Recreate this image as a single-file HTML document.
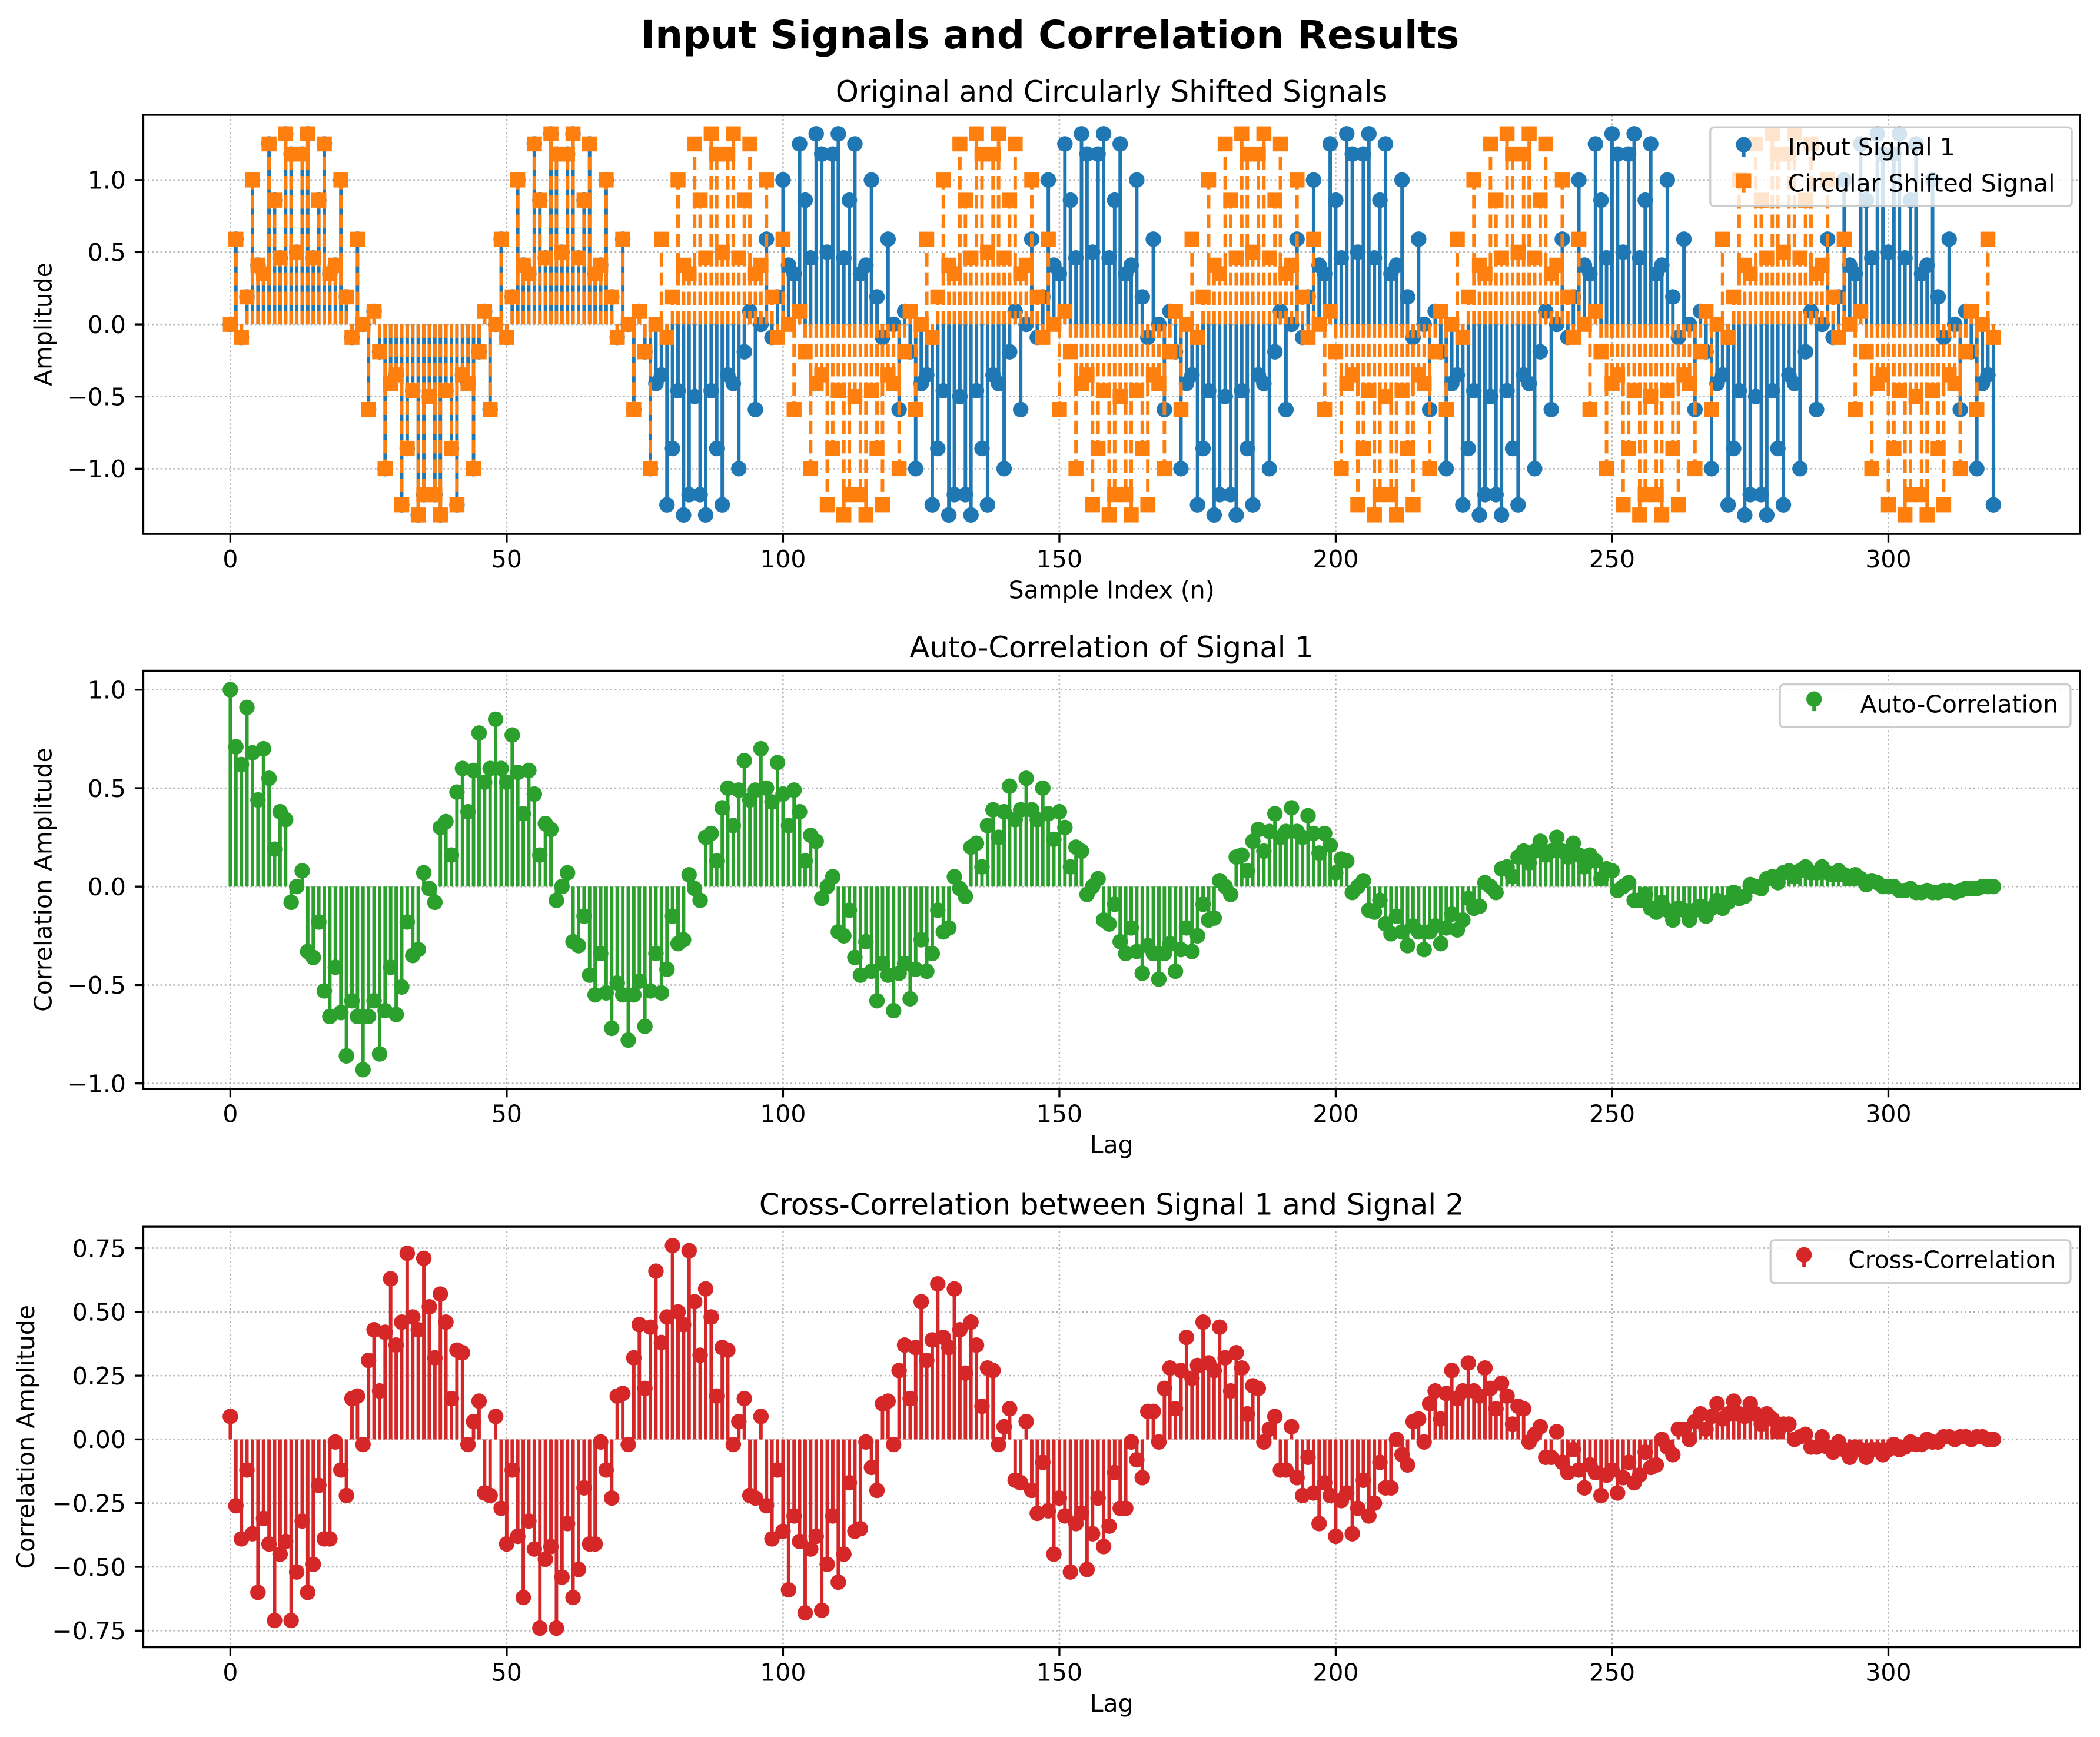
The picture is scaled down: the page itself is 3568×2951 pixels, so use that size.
<!DOCTYPE html>
<html><head><meta charset="utf-8"><style>
html,body{margin:0;padding:0;background:#fff}
svg{display:block}
text{font-family:"DejaVu Sans","Liberation Sans",sans-serif;fill:#000}
</style></head><body>
<svg id="fig" xmlns="http://www.w3.org/2000/svg" width="3568" height="2951" viewBox="0 0 1568 1297" preserveAspectRatio="none">
<rect x="0" y="0" width="1568" height="1297" fill="#fff"/>
<text x="784" y="36" text-anchor="middle" font-size="29" font-weight="bold">Input Signals and Correlation Results</text>
<g id="ax1"></g>
<g id="ax2"></g>
<g id="ax3"></g>
</svg>
<script>
// ---- data ----
const signal1 = [0,.59,-.09,.19,1,.41,.35,1.25,.86,.46,1.32,1.18,.5,1.18,1.32,.46,.86,1.25,.35,.41,1,.19,-.09,.59,
0,-.59,.09,-.19,-1,-.41,-.35,-1.25,-.86,-.46,-1.32,-1.18,-.5,-1.18,-1.32,-.46,-.86,-1.25,-.35,-.41,-1,-.19,.09,-.59,
0,.59,-.09,.19,1,.41,.35,1.25,.86,.46,1.32,1.18,.5,1.18,1.32,.46,.86,1.25,.35,.41,1,.19,-.09,.59,
0,-.59,.09,-.19,-1,-.41,-.35,-1.25,-.86,-.46,-1.32,-1.18,-.5,-1.18,-1.32,-.46,-.86,-1.25,-.35,-.41,-1,-.19,.09,-.59,
0,.59,-.09,.19,1,.41,.35,1.25,.86,.46,1.32,1.18,.5,1.18,1.32,.46,.86,1.25,.35,.41,1,.19,-.09,.59,
0,-.59,.09,-.19,-1,-.41,-.35,-1.25,-.86,-.46,-1.32,-1.18,-.5,-1.18,-1.32,-.46,-.86,-1.25,-.35,-.41,-1,-.19,.09,-.59,
0,.59,-.09,.19,1,.41,.35,1.25,.86,.46,1.32,1.18,.5,1.18,1.32,.46,.86,1.25,.35,.41,1,.19,-.09,.59,
0,-.59,.09,-.19,-1,-.41,-.35,-1.25,-.86,-.46,-1.32,-1.18,-.5,-1.18,-1.32,-.46,-.86,-1.25,-.35,-.41,-1,-.19,.09,-.59,
0,.59,-.09,.19,1,.41,.35,1.25,.86,.46,1.32,1.18,.5,1.18,1.32,.46,.86,1.25,.35,.41,1,.19,-.09,.59,
0,-.59,.09,-.19,-1,-.41,-.35,-1.25,-.86,-.46,-1.32,-1.18,-.5,-1.18,-1.32,-.46,-.86,-1.25,-.35,-.41,-1,-.19,.09,-.59,
0,.59,-.09,.19,1,.41,.35,1.25,.86,.46,1.32,1.18,.5,1.18,1.32,.46,.86,1.25,.35,.41,1,.19,-.09,.59,
0,-.59,.09,-.19,-1,-.41,-.35,-1.25,-.86,-.46,-1.32,-1.18,-.5,-1.18,-1.32,-.46,-.86,-1.25,-.35,-.41,-1,-.19,.09,-.59,
0,.59,-.09,.19,1,.41,.35,1.25,.86,.46,1.32,1.18,.5,1.18,1.32,.46,.86,1.25,.35,.41,1,.19,-.09,.59,
0,-.59,.09,-.19,-1,-.41,-.35,-1.25];
const shiftedSignal = [0,.59,-.09,.19,1,.41,.35,1.25,.86,.46,1.32,1.18,.5,1.18,1.32,.46,.86,1.25,.35,.41,1,.19,-.09,.59,
0,-.59,.09,-.19,-1,-.41,-.35,-1.25,-.86,-.46,-1.32,-1.18,-.5,-1.18,-1.32,-.46,-.86,-1.25,-.35,-.41,-1,-.19,.09,-.59,
0,.59,-.09,.19,1,.41,.35,1.25,.86,.46,1.32,1.18,.5,1.18,1.32,.46,.86,1.25,.35,.41,1,.19,-.09,.59,
0,-.59,.09,-.19,-1,
0,.59,-.09,.19,1,.41,.35,1.25,.86,.46,1.32,1.18,.5,1.18,1.32,.46,.86,1.25,.35,.41,1,.19,-.09,.59,
0,-.59,.09,-.19,-1,-.41,-.35,-1.25,-.86,-.46,-1.32,-1.18,-.5,-1.18,-1.32,-.46,-.86,-1.25,-.35,-.41,-1,-.19,.09,-.59,
0,.59,-.09,.19,1,.41,.35,1.25,.86,.46,1.32,1.18,.5,1.18,1.32,.46,.86,1.25,.35,.41,1,.19,-.09,.59,
0,-.59,.09,-.19,-1,-.41,-.35,-1.25,-.86,-.46,-1.32,-1.18,-.5,-1.18,-1.32,-.46,-.86,-1.25,-.35,-.41,-1,-.19,.09,-.59,
0,.59,-.09,.19,1,.41,.35,1.25,.86,.46,1.32,1.18,.5,1.18,1.32,.46,.86,1.25,.35,.41,1,.19,-.09,.59,
0,-.59,.09,-.19,-1,-.41,-.35,-1.25,-.86,-.46,-1.32,-1.18,-.5,-1.18,-1.32,-.46,-.86,-1.25,-.35,-.41,-1,-.19,.09,-.59,
0,.59,-.09,.19,1,.41,.35,1.25,.86,.46,1.32,1.18,.5,1.18,1.32,.46,.86,1.25,.35,.41,1,.19,-.09,.59,
0,-.59,.09,-.19,-1,-.41,-.35,-1.25,-.86,-.46,-1.32,-1.18,-.5,-1.18,-1.32,-.46,-.86,-1.25,-.35,-.41,-1,-.19,.09,-.59,
0,.59,-.09,.19,1,.41,.35,1.25,.86,.46,1.32,1.18,.5,1.18,1.32,.46,.86,1.25,.35,.41,1,.19,-.09,.59,
0,-.59,.09,-.19,-1,-.41,-.35,-1.25,-.86,-.46,-1.32,-1.18,-.5,-1.18,-1.32,-.46,-.86,-1.25,-.35,-.41,-1,-.19,.09,-.59,
0,.59,-.09];
const autoCorr = [1,.71,.62,.91,.68,.44,.70,.55,.19,.38,.34,-.08,0,.08,-.33,-.36,-.18,-.53,-.66,-.41,-.64,-.86,-.58,-.66,-.93,-.66,-.58,-.85,-.63,-.41,-.65,-.51,-.18,-.35,-.32,.07,-.01,-.08,.30,.33,.16,.48,.60,.38,.59,.78,.53,.60,
.85,.60,.53,.77,.58,.37,.59,.47,.16,.32,.29,-.07,0,.07,-.28,-.30,-.15,-.45,-.55,-.34,-.54,-.72,-.49,-.55,-.78,-.55,-.48,-.71,-.53,-.34,-.54,-.42,-.15,-.29,-.27,.06,-.01,-.07,.25,.27,.13,.40,.50,.31,.49,.64,.44,.49,
.70,.50,.43,.63,.47,.31,.49,.38,.13,.26,.23,-.06,0,.05,-.23,-.25,-.12,-.36,-.45,-.28,-.43,-.58,-.39,-.45,-.63,-.44,-.39,-.57,-.42,-.27,-.43,-.34,-.12,-.23,-.21,.05,-.01,-.05,.20,.22,.10,.31,.39,.25,.38,.51,.34,.39,
.55,.39,.34,.50,.37,.24,.38,.30,.10,.20,.18,-.04,0,.04,-.17,-.19,-.09,-.28,-.34,-.21,-.33,-.44,-.30,-.34,-.47,-.34,-.29,-.43,-.32,-.21,-.33,-.25,-.09,-.17,-.16,.03,0,-.04,.15,.16,.08,.23,.29,.18,.28,.37,.25,.28,
.40,.28,.25,.36,.27,.17,.27,.21,.07,.14,.13,-.03,0,.03,-.12,-.13,-.07,-.19,-.24,-.15,-.23,-.30,-.20,-.23,-.32,-.23,-.20,-.29,-.21,-.14,-.22,-.17,-.06,-.11,-.10,.02,0,-.03,.09,.10,.05,.15,.18,.12,.18,.23,.16,.18,
.25,.18,.15,.22,.16,.10,.16,.13,.04,.09,.08,-.02,0,.02,-.07,-.07,-.04,-.11,-.13,-.08,-.12,-.17,-.11,-.12,-.17,-.12,-.10,-.15,-.11,-.07,-.11,-.08,-.03,-.06,-.05,.01,0,-.01,.04,.05,.02,.07,.08,.05,.08,.10,.07,.07,
.10,.07,.06,.08,.06,.04,.06,.04,.01,.03,.02,0,0,0,-.02,-.02,-.01,-.03,-.03,-.02,-.03,-.03,-.02,-.02,-.03,-.02,-.01,-.01,-.01,0,0,0];
const crossCorr = [.09,-.26,-.39,-.12,-.37,-.60,-.31,-.41,-.71,-.45,-.40,-.71,-.52,-.32,-.60,-.49,-.18,-.39,-.39,-.01,-.12,-.22,.16,.17,-.02,.31,.43,.19,.42,.63,.37,.46,.73,.48,.43,.71,.52,.32,.57,.46,.16,.35,.34,-.02,.07,.15,-.21,-.22,
.09,-.27,-.41,-.12,-.38,-.62,-.32,-.43,-.74,-.47,-.42,-.74,-.54,-.33,-.62,-.51,-.19,-.41,-.41,-.01,-.12,-.23,.17,.18,-.02,.32,.45,.20,.44,.66,.38,.48,.76,.50,.45,.74,.54,.33,.59,.48,.17,.36,.35,-.02,.07,.16,-.22,-.23,
.09,-.26,-.39,-.12,-.36,-.59,-.30,-.40,-.68,-.43,-.38,-.67,-.49,-.30,-.56,-.45,-.17,-.36,-.35,-.01,-.11,-.20,.14,.15,-.02,.27,.37,.16,.36,.54,.31,.39,.61,.40,.36,.59,.43,.26,.46,.37,.13,.28,.27,-.02,.05,.12,-.16,-.17,
.07,-.20,-.29,-.09,-.28,-.45,-.23,-.30,-.52,-.33,-.29,-.51,-.37,-.23,-.42,-.34,-.13,-.27,-.27,-.01,-.08,-.15,.11,.11,-.01,.20,.28,.12,.27,.40,.24,.29,.46,.30,.27,.44,.32,.19,.34,.28,.10,.21,.20,-.01,.04,.09,-.12,-.12,
.05,-.15,-.22,-.07,-.21,-.33,-.17,-.22,-.38,-.24,-.21,-.37,-.27,-.16,-.30,-.25,-.09,-.19,-.19,0,-.06,-.10,.07,.08,-.01,.14,.19,.08,.18,.27,.16,.19,.30,.19,.17,.28,.20,.12,.22,.17,.06,.13,.12,-.01,.02,.05,-.07,-.07,
.03,-.09,-.13,-.04,-.12,-.19,-.10,-.13,-.22,-.14,-.12,-.21,-.15,-.09,-.17,-.14,-.05,-.11,-.10,0,-.03,-.06,.04,.04,0,.07,.10,.04,.09,.14,.08,.10,.15,.10,.09,.14,.10,.06,.10,.08,.03,.06,.06,0,.01,.02,-.03,-.03,
.01,-.03,-.05,-.01,-.04,-.07,-.03,-.04,-.07,-.04,-.04,-.06,-.04,-.02,-.04,-.03,-.01,-.02,-.02,0,-.01,-.01,.01,.01,0,.01,.01,0,.01,.01,0,0];
const xTicks = [0,50,100,150,200,250,300];
const yTicks1 = [-1.0,-0.5,0.0,0.5,1.0];
const yTicks2 = [-1.0,-0.5,0.0,0.5,1.0];
const yTicks3 = [-0.75,-0.5,-0.25,0.0,0.25,0.5,0.75];
const yTickLabels1 = ["\u22121.0","\u22120.5","0.0","0.5","1.0"];
const yTickLabels2 = ["\u22121.0","\u22120.5","0.0","0.5","1.0"];
const yTickLabels3 = ["\u22120.75","\u22120.50","\u22120.25","0.00","0.25","0.50","0.75"];

// ---- rendering ----
const NS = "http://www.w3.org/2000/svg";
function el(tag, attrs, parent){ const e=document.createElementNS(NS,tag); for(const k in attrs) e.setAttribute(k,attrs[k]); if(parent) parent.appendChild(e); return e; }
const L=107, R=1553;
const xScale = v => 172 + (v-0)*(1410-172)/300;

function makeAxis(g, top, bottom, yScale, yTicks, yLabels, title, titleY, xlabel, ylabel, ylabelX){
  const clipId = g.id+"clip";
  const cp = el("clipPath",{id:clipId},g);
  el("rect",{x:L,y:top,width:R-L,height:bottom-top},cp);
  // grid
  xTicks.forEach(t=>{
    const gl = el("line",{x1:xScale(t),x2:xScale(t),y1:top,y2:bottom,stroke:"#b0b0b0","stroke-width":1.1,"stroke-dasharray":"1.2 2"},g);
    
    
  });
  yTicks.forEach(t=>{
    const gl = el("line",{x1:L,x2:R,y1:yScale(t),y2:yScale(t),stroke:"#b0b0b0","stroke-width":1.1,"stroke-dasharray":"1.2 2"},g);
    
    
  });
  const data = el("g",{"clip-path":"url(#"+clipId+")"},g);
  // ticks and labels
  xTicks.forEach(t=>{
    const x=xScale(t);
    const tk = el("line",{x1:x,x2:x,y1:bottom,y2:bottom+6.4,stroke:"#000","stroke-width":1.45},g);
    
    
    const tl = el("text",{x:x,y:bottom+25,"text-anchor":"middle","font-size":18},g);
    tl.textContent = String(t);
    
    
  });
  yTicks.forEach((t,i)=>{
    const y=yScale(t);
    const tk = el("line",{x1:L-6.4,x2:L,y1:y,y2:y,stroke:"#000","stroke-width":1.45},g);
    
    
    const tl = el("text",{x:L-13,y:y+6.5,"text-anchor":"end","font-size":18},g);
    tl.textContent = yLabels[i];
    
    
  });
  const tt = el("text",{x:(L+R)/2,y:titleY,"text-anchor":"middle","font-size":21.8},g);
  tt.textContent = title;
  
  
  const xl = el("text",{x:(L+R)/2,y:bottom+48,"text-anchor":"middle","font-size":18},g);
  xl.textContent = xlabel;
  
  
  const cy=(top+bottom)/2;
  const yl = el("text",{x:ylabelX,y:cy,"text-anchor":"middle","font-size":18,transform:"rotate(-90 "+ylabelX+" "+cy+")"},g);
  yl.textContent = ylabel;
  
  
  return data;
}
function frame(g, top, bottom){
  const fr = el("rect",{x:L,y:top,width:R-L,height:bottom-top,fill:"none",stroke:"#000","stroke-width":1.45},g);
  
  
}
function stems(parent, vals, yScale, color, dashed, marker, nm){
  const sg = el("g",{},parent);
  const y0 = yScale(0);
  vals.forEach((v,i)=>{
    const ln = el("line",{x1:xScale(i),x2:xScale(i),y1:y0,y2:yScale(v),stroke:color,"stroke-width":2.6},sg);
    if(dashed) ln.setAttribute("stroke-dasharray","10 4.4");
    
    
  });
  vals.forEach((v,i)=>{
    let m;
    if(marker==="s") m = el("rect",{x:xScale(i)-5.6,y:yScale(v)-5.6,width:11.2,height:11.2,fill:color},sg);
    else m = el("circle",{cx:xScale(i),cy:yScale(v),r:5.8,fill:color},sg);
    
    
  });
}
function legend(g, x, y, w, h, entries){
  const lg = el("g",{},g);
  
  
  el("rect",{x:x,y:y,width:w,height:h,rx:3,fill:"#fff","fill-opacity":0.8,stroke:"#cccccc","stroke-width":1.4},lg);
  entries.forEach(en=>{
    const eg = el("g",{},lg);
    
    
    el("line",{x1:en.mx,x2:en.mx,y1:en.my,y2:en.my+9,stroke:en.color,"stroke-width":2.6},eg);
    if(en.marker==="s") el("rect",{x:en.mx-5.6,y:en.my-5.6,width:11.2,height:11.2,fill:en.color},eg);
    else el("circle",{cx:en.mx,cy:en.my,r:5.8,fill:en.color},eg);
    const t = el("text",{x:en.tx,y:en.ty,"font-size":18},eg);
    t.textContent = en.label;
  });
}

// Axes 1
const y1 = v => 242.2 - v*107.8;
const g1 = document.getElementById("ax1");
const d1 = makeAxis(g1, 85.7, 398.7, y1, yTicks1, yTickLabels1, "Original and Circularly Shifted Signals", 76, "Sample Index (n)", "Amplitude", 38.4);
stems(d1, signal1, y1, "#1f77b4", false, "o", "signal1");
stems(d1, shiftedSignal, y1, "#ff7f0e", true, "s", "shifted-signal");
frame(g1, 85.7, 398.7);
legend(g1, 1277, 95, 270, 59, [
  {mx:1302,my:108,tx:1335,ty:116,color:"#1f77b4",marker:"o",label:"Input Signal 1"},
  {mx:1302,my:135,tx:1335,ty:143,color:"#ff7f0e",marker:"s",label:"Circular Shifted Signal"}]);

// Axes 2
const y2 = v => 662 - v*147;
const g2 = document.getElementById("ax2");
const d2 = makeAxis(g2, 500.8, 813, y2, yTicks2, yTickLabels2, "Auto-Correlation of Signal 1", 491, "Lag", "Correlation Amplitude", 38.4);
stems(d2, autoCorr, y2, "#2ca02c", false, "o", "autocorr");
frame(g2, 500.8, 813);
legend(g2, 1329, 511, 217, 32, [
  {mx:1354.5,my:522,tx:1389,ty:532,color:"#2ca02c",marker:"o",label:"Auto-Correlation"}]);

// Axes 3
const y3 = v => 1074.8 - v*190.4;
const g3 = document.getElementById("ax3");
const d3 = makeAxis(g3, 916, 1230, y3, yTicks3, yTickLabels3, "Cross-Correlation between Signal 1 and Signal 2", 907, "Lag", "Correlation Amplitude", 25.5);
stems(d3, crossCorr, y3, "#d62728", false, "o", "crosscorr");
frame(g3, 916, 1230);
legend(g3, 1322, 926, 224, 32, [
  {mx:1347,my:937,tx:1380,ty:947,color:"#d62728",marker:"o",label:"Cross-Correlation"}]);
</script>
</body></html>
